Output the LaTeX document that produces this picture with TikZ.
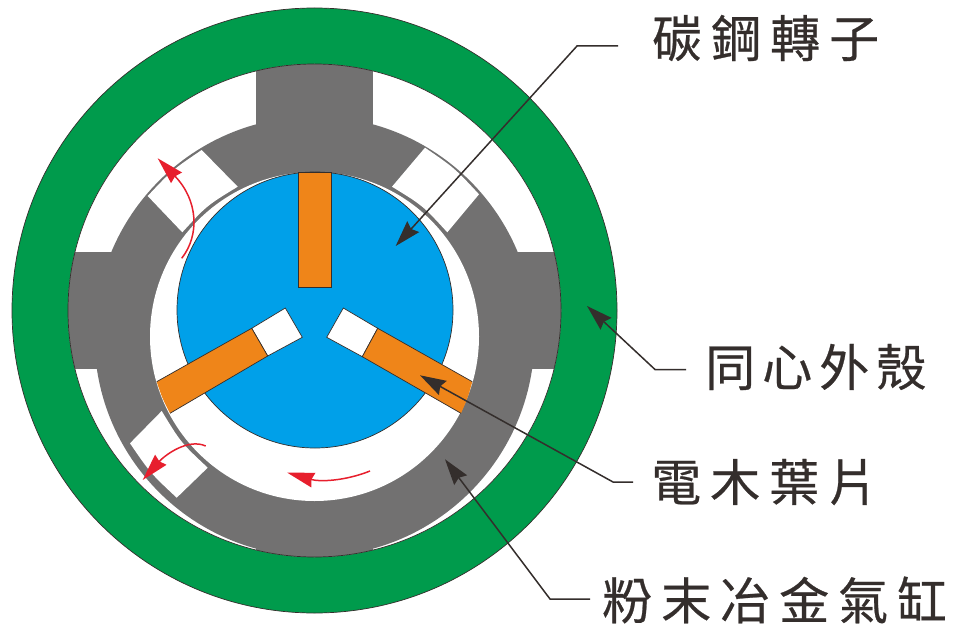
\documentclass[tikz,border=0pt]{standalone}
\usepackage{fontspec}
\usetikzlibrary{arrows.meta}
\newfontfamily\cjk[FakeBold=0.5]{Noto Sans CJK TC}
\definecolor{shellgreen}{HTML}{009B4C}
\definecolor{rotorblue}{HTML}{00A0E9}
\definecolor{vaneorange}{HTML}{EF8519}
\definecolor{bodygray}{HTML}{727171}
\definecolor{flowred}{HTML}{E71F2D}
\definecolor{inkdark}{HTML}{342E2C}
\tikzset{
  x=1pt,y=-1pt,
  outline/.style={draw=inkdark,line width=0.7pt},
  vanefill/.style={fill=vaneorange},
  slotfill/.style={fill=white},
  leader/.style={draw=inkdark,line width=1.5pt,-{Stealth[length=26pt,width=16pt,inset=3pt]}},
  flow/.style={draw=flowred,line width=1.5pt,-{Stealth[length=27pt,width=15pt,inset=2pt]}},
  partlabel/.style={font=\cjk\fontsize{50}{50}\selectfont,text=inkdark,inner sep=0pt,anchor=west},
}
\newcommand{\lgap}{\hspace{9pt}}
\begin{document}
\begin{tikzpicture}
\useasboundingbox (0,0) rectangle (957,628);
\fill[white] (0,0) rectangle (957,628);
% shell
\fill[shellgreen,outline] (314.5,310.5) circle[radius=302.5pt];
\fill[white] (314.5,310.5) circle[radius=246.5pt];
% cylinder body
\begin{scope}
  \clip (314.5,310.5) circle[radius=246.5pt];
  \fill[bodygray] (314.5,336.5) circle[radius=220pt];
  \fill[bodygray] (256,60) rectangle (373,130);
  \fill[bodygray] (256,500) rectangle (373,560);
  \fill[bodygray] (60,252) rectangle (160,369);
  \fill[bodygray] (470,252) rectangle (570,369);
\end{scope}
\draw[outline] (314.5,310.5) circle[radius=246.5pt];
% bore
\fill[white] (314.5,336.5) circle[radius=164.5pt];
% slots
\fill[slotfill] (147.7,196) .. controls (172.2,170) .. (201.7,150) -- (237.7,186.7)
  .. controls (206.7,205.6) .. (182.3,232.3) -- cycle;
\fill[slotfill] (425,147.7) .. controls (454.5,168) .. (479,194.3) -- (447.3,232.3)
  .. controls (422.8,205.6) .. (392,186.7) -- cycle;
\fill[slotfill] (130,443.3) .. controls (150.3,473) .. (176.7,497.7) -- (207.7,467.7)
  .. controls (180.8,442.5) .. (161.7,411) -- cycle;
% rotor
\fill[rotorblue,outline] (315,310) circle[radius=138pt];
% vanes
\fill[vanefill,outline] (298,172) rectangle (331,287);
\fill[white,outline] (251.7,328.3) -- (285.3,308) -- (302.3,337.3) -- (267.7,356) -- cycle;
\fill[vanefill] (156.7,381.7) -- (251.7,328.3) -- (267.7,356) -- (170,413.3)
  .. controls (162.2,398) .. (156.7,381.7) -- cycle;
\draw[outline] (156.7,381.7) -- (251.7,328.3) -- (267.7,356) -- (170,413.3);
\fill[white,outline] (377.7,328.3) -- (343.3,308) -- (326.7,337.3) -- (362.3,356.7) -- cycle;
\fill[vanefill] (472.3,381.7) -- (377.7,328.3) -- (362.3,356.7) -- (461,413.3)
  .. controls (467.7,398) .. (472.3,381.7) -- cycle;
\draw[outline] (472.3,381.7) -- (377.7,328.3) -- (362.3,356.7) -- (461,413.3);
% rotation arrows
\coordinate (fa1) at (181.7,258.3); \coordinate (fb1) at (157.7,158.3);
\coordinate (fa2) at (205.7,446);   \coordinate (fb2) at (142.7,480);
\coordinate (fa3) at (370,471);     \coordinate (fb3) at (287.3,472.7);
\draw[flow] (fa1) .. controls (200,235) and (198,200) .. (fb1);
\draw[flow] (fa2) .. controls (188,438) and (165,455) .. (fb2);
\draw[flow] (fa3) .. controls (345,481) and (320,482) .. (fb3);
% labels
\node[partlabel] (rotor) at (652,38) {碳\lgap 鋼\lgap 轉\lgap 子};
\node[partlabel] (shell) at (705,367) {同\hspace{7pt}心\hspace{7pt}外\hspace{7pt}殼};
\node[partlabel] (vane) at (651,482) {電\lgap 木\lgap 葉\lgap 片};
\node[partlabel] (body) at (602,600) {粉\lgap 末\lgap 冶\lgap 金\lgap 氣\lgap 缸};
% leaders
\coordinate (e1) at (618,46);  \coordinate (k1) at (577,46);  \coordinate (t1) at (395.7,246);
\coordinate (e2) at (686,369.5); \coordinate (k2) at (655,369.5); \coordinate (t2) at (587,306);
\coordinate (e3) at (633,482); \coordinate (k3) at (613,482); \coordinate (t3) at (420,375.3);
\coordinate (e4) at (590,599); \coordinate (k4) at (550,599); \coordinate (t4) at (445,459.3);
\draw[leader] (e1) -- (k1) -- (t1);
\draw[leader] (e2) -- (k2) -- (t2);
\draw[leader] (e3) -- (k3) -- (t3);
\draw[leader] (e4) -- (k4) -- (t4);
\end{tikzpicture}
\end{document}
